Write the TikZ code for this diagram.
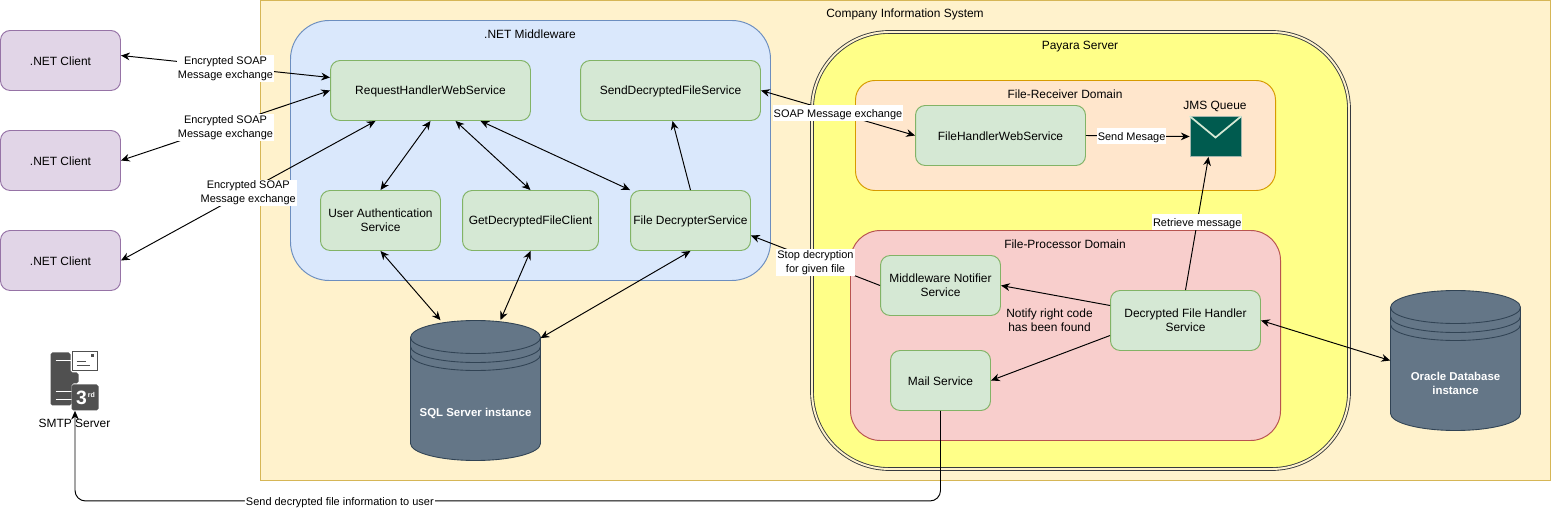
\documentclass[tikz,border=0pt]{standalone}
\usepackage{fontspec}
\setmainfont{Liberation Sans}
\usetikzlibrary{arrows.meta}
\definecolor{greenfill}{HTML}{D5E8D4}
\definecolor{greenline}{HTML}{82B366}
\definecolor{purplefill}{HTML}{E1D5E7}
\definecolor{purpleline}{HTML}{9673A6}
\definecolor{dbfill}{HTML}{647687}
\definecolor{dbline}{HTML}{314354}
\definecolor{iconfill}{HTML}{505050}
\definecolor{sysfill}{HTML}{FFF2CC}
\definecolor{sysline}{HTML}{D6B656}
\definecolor{midfill}{HTML}{DAE8FC}
\definecolor{midline}{HTML}{6C8EBF}
\definecolor{serverfill}{HTML}{FFFF88}
\definecolor{serverline}{HTML}{36393D}
\definecolor{recvfill}{HTML}{FFE6CC}
\definecolor{recvline}{HTML}{D79B00}
\definecolor{procfill}{HTML}{F8CECC}
\definecolor{procline}{HTML}{B85450}
\definecolor{queuefill}{HTML}{005B4F}
\tikzset{
  every node/.style={font=\fontsize{6.8pt}{8pt}\selectfont,align=center,inner sep=1pt},
  lowered/.style={execute at begin node={\rule{0pt}{6.3pt}}},
  area/.style={draw,line width=0.55pt,rounded corners=#1},
  service/.style={lowered,draw=greenline,fill=greenfill,line width=0.55pt,rounded corners=5.5pt,inner sep=0pt},
  client/.style={lowered,draw=purpleline,fill=purplefill,line width=0.55pt,rounded corners=5.5pt,inner sep=0pt,minimum width=2.4cm,minimum height=1.2cm},
  conn/.style={-{Stealth[length=5pt,width=4.4pt]},line width=0.55pt},
  twoway/.style={{Stealth[length=5pt,width=4.4pt]}-{Stealth[length=5pt,width=4.4pt]},line width=0.55pt},
  msg/.style={lowered,fill=white,inner sep=0.6pt,font=\fontsize{6.24pt}{7.9pt}\selectfont},
  msgtwo/.style={msg,yshift=-1.1pt},
  dbtext/.style={text=white,font=\fontsize{6.5pt}{8pt}\selectfont\bfseries},
}
% data store: name, centre x, top y, height
\newcommand{\datastore}[5]{
  \filldraw[fill=dbfill,draw=dbline,line width=0.5pt] (#2-65,#3+17) arc[start angle=180,end angle=360,x radius=65,y radius=17]
    -- (#2+65,#3+#4-17) arc[start angle=0,end angle=180,x radius=65,y radius=17] -- cycle;
  \foreach \yb in {17,26,34}
    \draw[dbline,line width=0.5pt] (#2-65,#3+\yb) arc[start angle=180,end angle=0,x radius=65,y radius=16];
  \node[minimum width=2.6cm,minimum height=#4*0.02cm,dbtext] (#1) at (#2,#3+#4/2) {};
  \node[dbtext] at (#2,#3+#4/2+23) {#5};
}
\begin{document}
\begin{tikzpicture}[x=0.02cm,y=-0.02cm]
\useasboundingbox (-0.5,-0.5) rectangle (1550.5,508.5);
% areas
\draw[area=0pt,draw=sysline,fill=sysfill] (260,0) rectangle (1550,480);
\draw[area=22pt,draw=midline,fill=midfill] (290,20) rectangle (770,280);
\draw[area=44pt,draw=serverline,double=sysfill,double distance=1.1pt,line width=0.5pt,fill=serverfill] (811.5,31.5) rectangle (1348.5,468.5);
\draw[area=11pt,draw=recvline,fill=recvfill] (855,80) rectangle (1275,190);
\draw[area=17pt,draw=procline,fill=procfill] (850,230) rectangle (1280,440);
\node at (904.5,14) {Company Information System};
\node at (529.5,34) {.NET Middleware};
\node at (1079.5,46) {Payara Server};
\node at (1064.5,94) {File-Receiver Domain};
\node at (1064.5,244) {File-Processor Domain};
\node at (1214.5,106) {JMS Queue};
% clients
\foreach \i/\y in {1/60,2/160,3/260}
  \node[client] (client\i) at (60,\y) {.NET Client};
% services
\node[service,minimum width=4cm,minimum height=1.2cm] (req) at (430,90) {RequestHandlerWebService};
\node[service,minimum width=3.6cm,minimum height=1.2cm] (send) at (670,90) {SendDecryptedFileService};
\node[service,minimum width=2.4cm,minimum height=1.2cm] (auth) at (380,220) {User Authentication\\Service};
\node[service,minimum width=2.72cm,minimum height=1.2cm] (get) at (530,220) {GetDecryptedFileClient};
\node[service,minimum width=2.4cm,minimum height=1.2cm] (decrypter) at (690,220) {File DecrypterService};
\node[service,minimum width=3.4cm,minimum height=1.2cm] (handler) at (1000,135) {FileHandlerWebService};
\node[service,minimum width=2.4cm,minimum height=1.2cm] (notifier) at (940,285) {Middleware Notifier\\Service};
\node[service,minimum width=2cm,minimum height=1.2cm] (mail) at (940,380) {Mail Service};
\node[service,minimum width=3cm,minimum height=1.2cm] (filehandler) at (1185,320) {Decrypted File Handler\\Service};
% queue
\node[draw=greenfill!70!dbline,fill=queuefill,minimum width=1.02cm,minimum height=0.8cm,inner sep=0pt] (queue) at (1215,136) {};
\draw[greenfill,line width=1pt] (queue.north west) -- (1215,137) -- (queue.north east);
% stores
\datastore{sql}{475}{320}{140}{SQL Server instance}
\datastore{oracle}{1455}{290}{140}{Oracle Database\\instance}
% smtp icon
\node[minimum width=1cm,minimum height=1.2cm,inner sep=0pt] (smtp) at (74.5,380) {};
\fill[iconfill,rounded corners=1pt] (50,352) -- (70,352) -- (70,372) -- (78,372) -- (78,383) -- (71,383) -- (71,405) -- (50,405) -- cycle;
\draw[white,line width=0.6pt] (55,360) -- (70,360) (55,391) -- (71,391) (55,399) -- (71,399);
\draw[iconfill,fill=white,line width=0.7pt] (72,351) rectangle (97,370);
\fill[iconfill] (90,354) rectangle (93,357);
\draw[iconfill,line width=0.6pt] (76,361) -- (85,361) (76,365) -- (89,365);
\fill[iconfill,rounded corners=1pt] (71,384) rectangle (98,410);
\node[text=white,font=\fontsize{11pt}{11pt}\selectfont\bfseries] at (81,397) {3};
\node[text=white,font=\fontsize{4pt}{4pt}\selectfont\bfseries] at (91,394) {rd};
\node at (74,423) {SMTP Server};
% connectors
\draw[twoway] (client1.east |- 0,55) -- node[msgtwo,pos=.5] {Encrypted SOAP\\Message exchange} ([shift={(0,-13)}]req.west);
\draw[twoway] (client2.east) -- node[msgtwo,pos=.5] {Encrypted SOAP\\Message exchange} (req.west);
\draw[twoway] (client3.east) -- node[msgtwo,pos=.5] {Encrypted SOAP\\Message exchange} ([shift={(-55,0)}]req.south);
\draw[twoway] (auth.north) -- (req.south);
\draw[twoway] (get.north) -- ([shift={(25,0)}]req.south);
\draw[twoway] (decrypter.north west) -- ([shift={(50,0)}]req.south);
\draw[conn] (decrypter.north) -- ([shift={(2,0)}]send.south);
\draw[twoway] (auth.south) -- ([shift={(-35,0)}]sql.north);
\draw[twoway] (get.south) -- ([shift={(25,0)}]sql.north);
\draw[twoway] (decrypter.south) -- ([shift={(65,18)}]sql.north);
\draw[twoway] (send.east) -- node[msg,pos=.5] {SOAP Message exchange} (handler.west);
\draw[conn] (handler.east) -- node[msg,pos=.44] {Send Mesage} (queue.west);
\draw[conn] (filehandler.north) -- node[msg,pos=.51] {Retrieve message} ([shift={(-7,0)}]queue.south);
\draw[conn] (notifier.west) -- node[msgtwo,pos=.5] {Stop decryption\\for given file} ([shift={(0,15)}]decrypter.east);
\draw[conn] ([shift={(0,-15)}]filehandler.west) -- (notifier.east);
\draw[conn] ([shift={(0,15)}]filehandler.west) -- (mail.east);
\node at (1049,320) {Notify right code\\has been found};
\draw[twoway] (filehandler.east) -- (oracle.west);
\draw[conn,rounded corners=6pt] (mail.south) -- ++(0,90) -- node[msg,pos=.694] {Send decrypted file information to user} ++(-865.5,0) -- (smtp.south);
\end{tikzpicture}
\end{document}
